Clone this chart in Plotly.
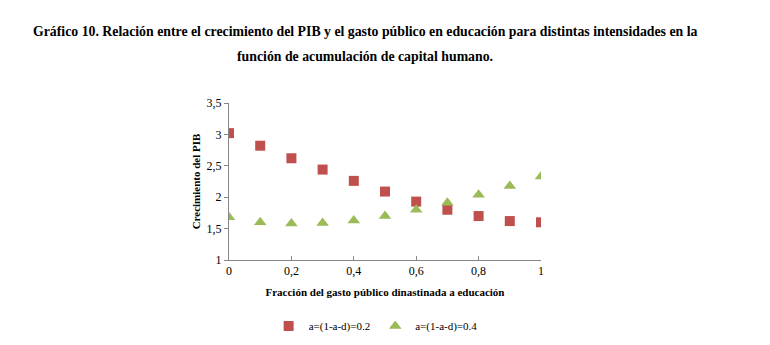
import plotly.graph_objects as go

x_vals = [0, 0.1, 0.2, 0.3, 0.4, 0.5, 0.6, 0.7, 0.8, 0.9, 1.0]
serie_02 = [3.02, 2.82, 2.62, 2.44, 2.26, 2.09, 1.93, 1.80, 1.70, 1.62, 1.60]
serie_04 = [1.68, 1.60, 1.58, 1.59, 1.63, 1.70, 1.80, 1.91, 2.04, 2.18, 2.33]
x_ticks = [0, 0.2, 0.4, 0.6, 0.8, 1]
x_tick_text = ["0", "0,2", "0,4", "0,6", "0,8", "1"]
y_ticks = [1, 1.5, 2, 2.5, 3, 3.5]
y_tick_text = ["1", "1,5", "2", "2,5", "3", "3,5"]

font_fam = "Liberation Serif"

fig = go.Figure()
fig.add_trace(go.Scatter(x=x_vals, y=serie_02, mode="markers", name="a=(1-a-d)=0.2",
                         marker=dict(symbol="square", size=10, color="#C0504D")))
fig.add_trace(go.Scatter(x=x_vals, y=serie_04, mode="markers", name="a=(1-a-d)=0.4",
                         marker=dict(symbol="triangle-up", size=11, color="#9BBB59")))

fig.update_layout(
    width=770, height=345,
    paper_bgcolor="white", plot_bgcolor="white",
    margin=dict(l=229, r=229, t=103, b=85, autoexpand=False),
    font=dict(family=font_fam, size=12, color="black"),
    showlegend=True,
    legend=dict(orientation="h", x=0.47, xanchor="center", y=(345 - 326) / 345,
                yref="container", yanchor="middle",
                font=dict(size=11, family=font_fam), itemwidth=30, tracegroupgap=0),
)
fig.add_annotation(text="<b>Gráfico 10. Relación entre el crecimiento del PIB y el gasto público en educación para distintas intensidades en la</b>",
                   x=(365 - 229) / (770 - 458), y=1 + (103 - 32) / (345 - 188),
                   xref="paper", yref="paper", showarrow=False,
                   font=dict(size=13.8, family=font_fam), xanchor="center", yanchor="middle")
fig.add_annotation(text="<b>función de acumulación de capital humano.</b>",
                   x=(365 - 229) / (770 - 458), y=1 + (103 - 56) / (345 - 188),
                   xref="paper", yref="paper", showarrow=False,
                   font=dict(size=13.8, family=font_fam), xanchor="center", yanchor="middle")

fig.update_xaxes(range=[0, 1], tickvals=x_ticks, ticktext=x_tick_text,
                 showline=True, linecolor="#868686", linewidth=1,
                 ticks="inside", ticklen=4, tickcolor="#868686",
                 showgrid=False, zeroline=False, automargin=False,
                 title=dict(text="<b>Fracción del gasto público dinastinada a educación</b>",
                            font=dict(size=11, family=font_fam), standoff=10))
fig.update_yaxes(range=[1, 3.5], tickvals=y_ticks, ticktext=y_tick_text,
                 showline=True, linecolor="#868686", linewidth=1,
                 ticks="outside", ticklen=4, tickcolor="#868686",
                 showgrid=False, zeroline=False, automargin=False,
                 title=dict(text="<b>Crecimiento del PIB</b>", font=dict(size=11, family=font_fam), standoff=3))

fig.write_html("out.html")
